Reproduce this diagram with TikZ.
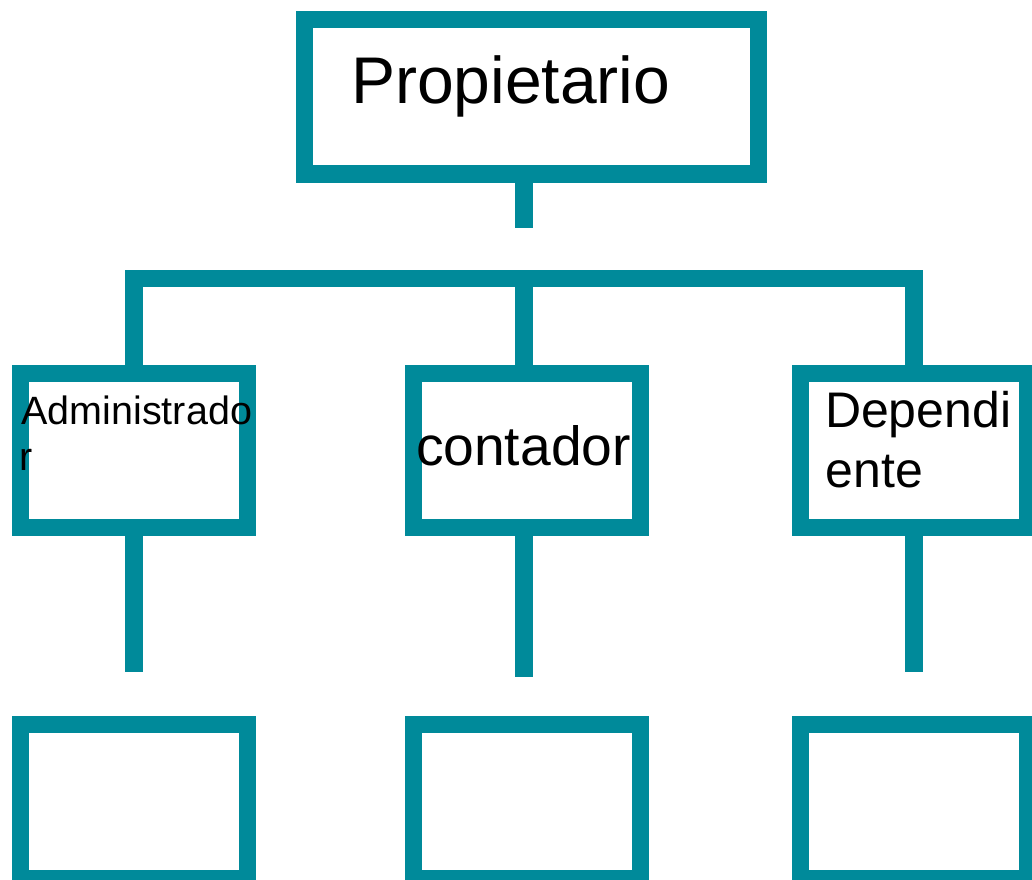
\documentclass[tikz,border=0pt]{standalone}
\usepackage{fontspec}
\setmainfont{Liberation Sans}
\definecolor{teal1}{RGB}{0,138,154}
\begin{document}
\begin{tikzpicture}[x=1pt,y=-1pt,
  box/.style={draw=teal1,line width=17.3pt,rectangle,inner sep=0pt,outer sep=0pt,
    minimum width=226.8pt,minimum height=154.3pt},
  link/.style={draw=teal1,line width=17.3pt,line cap=butt,line join=miter},
  lbl/.style={anchor=base west,inner sep=0pt,outer sep=0pt,text=black}]
\useasboundingbox (0,0) rectangle (1032,879);
% boxes
\node[box,minimum width=454.4pt] (top) at (531.5,96.85) {};
\node[box] (adm) at (133.9,450.5) {};
\node[box] (cont) at (527.2,450.5) {};
\node[box] (dep) at (913.9,450.5) {};
\node[box] (adm2) at (133.9,801.6) {};
\node[box] (cont2) at (527.2,801.5) {};
\node[box] (dep2) at (913.9,801.6) {};
% connector coordinates
\coordinate (j) at (524,278.7);
\coordinate (topend) at (524,227.7);
\coordinate (admend) at (133.9,671.7);
\coordinate (contend) at (524,677);
\coordinate (depend) at (913.9,671.7);
% connectors
\draw[link] (top.south -| topend) -- (topend);
\draw[link] (adm.north) -- (adm.north |- j) -- (dep.north |- j) -- (dep.north);
\draw[link] (j) -- (cont.north -| j);
\draw[link] (adm.south) -- (admend);
\draw[link] (cont.south -| contend) -- (contend);
\draw[link] (dep.south) -- (depend);
% labels
\node[lbl,font=\fontsize{66}{76}\selectfont] (tprop) at (351,103) {Propietario};
\node[lbl,font=\fontsize{39.5}{45.7}\selectfont] (tadm1) at (21.5,424.3) {Administrado};
\node[lbl,font=\fontsize{39.5}{45.7}\selectfont] (tadm2) at (19.2,470) {r};
\node[lbl,font=\fontsize{55.2}{62}\selectfont] (tcont) at (416,465) {contador};
\node[lbl,font=\fontsize{50}{60}\selectfont] (tdep1) at (825,427.7) {Dependi};
\node[lbl,font=\fontsize{50}{60}\selectfont] (tdep2) at (825.5,487.7) {ente};
\end{tikzpicture}
\end{document}
